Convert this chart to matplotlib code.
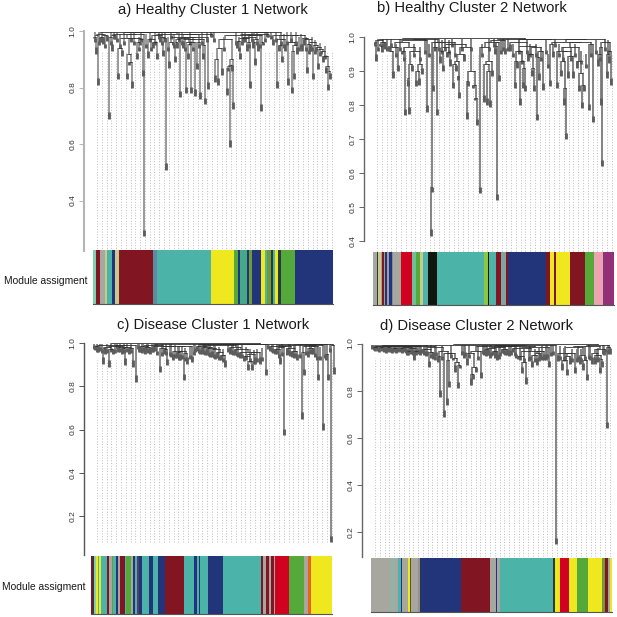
import numpy as np
import matplotlib
matplotlib.use("Agg")
import matplotlib.pyplot as plt
from matplotlib.collections import LineCollection

plt.rcParams['font.family'] = ['Liberation Sans', 'DejaVu Sans']

TEAL, RED2, NAVY, YEL, GRN, RED = '#4bb3a7', '#811622', '#22357a', '#efe81e', '#55a93a', '#d0021f'
GRY, BLK, MINT, KHA, LIL, LIME, PINK, MAG = '#a7a79f', '#101510', '#7fd0b0', '#c9c98a', '#9a9ac8', '#8fc63f', '#eba4b0', '#93307a'
OLV, DRK, ORG = '#6f9a3a', '#2a3a40', '#e8641e'

titles = ['a) Healthy Cluster 1 Network', 'b) Healthy Cluster 2 Network',
          'c) Disease Cluster 1 Network', 'd) Disease Cluster 2 Network']

a_x = [1,3,5,7,10,14,16,19,22,25,
       29,34,36,39,44,47,50,51,55,60,
       64,67,70,73,76,80,82,84,87,90,
       93,95,98,102,104,107,110,112,115,119,
       122,125,129,134,135,137,139,140,144,147,
       150,154,157,160,162,165,168,170,175,180,
       184,186,189,192,195,199,201,204,209,211,
       214,217,220,223,225,228,230,233,235,237]
a_tip = [.975,.92,.81,.96,.955,.965,.69,.93,.97,.83,
         .91,.83,.88,.80,.90,.95,.84,.274,.905,.94,
         .90,.96,.91,.508,.87,.95,.89,.94,.765,.94,
         .78,.90,.78,.77,.865,.76,.90,.74,.795,.98,
         .82,.81,.845,.775,.86,.59,.86,.725,.94,.90,
         .96,.93,.80,.94,.88,.93,.718,.95,.98,.95,
         .80,.93,.89,.93,.81,.78,.83,.92,.93,.95,
         .85,.93,.83,.93,.865,.92,.89,.85,.79,.83]
a_merge = [.98,.985,.99,.98,.985,.995,.98,.985,.99,.94,
           .975,.92,.89,.975,.96,.97,.99,.995,.97,.96,
           .985,.98,.975,.99,.96,.98,.96,.97,.975,.97,
           .96,.955,.96,.97,.96,.97,.95,.98,.99,.997,
           .90,.94,.97,.87,.875,.88,.90,.985,.965,.975,
           .975,.96,.98,.96,.97,.985,.96,.99,.995,.985,
           .97,.95,.97,.985,.96,.93,.95,.985,.975,.97,
           .955,.96,.95,.945,.935,.93,.91,.875,.86]
a_teeth_x = [2,6,9,12,18,21,24,27,31,38,41,46,48,53,57,58,62,66,69,72,75,78,81,86,89,92,97,100,106,109,
             114,118,121,131,143,146,149,152,156,159,164,167,172,174,178,183,188,191,194,198,203,206,208,213,216,219,222,227,232]
a_teeth_tip = [.96,.95,.96,.94,.95,.97,.96,.94,.95,.96,.95,.93,.96,.94,.96,.93,.95,.97,.95,.96,.93,.97,.94,.96,.95,.93,.95,.93,.94,.95,
               .96,.98,.96,.93,.95,.93,.95,.96,.94,.96,.95,.94,.96,.98,.97,.96,.95,.94,.95,.96,.95,.93,.94,.93,.92,.93,.92,.91,.90]

b_x = [2,3,7,9,12,16,20,25,29,32,
       35,36,39,43,46,49,54,58,59,60,
       64,67,70,74,77,80,83,85,86,91,
       94,95,100,102,104,107,111,114,117,119,
       122,124,126,132,137,142,144,147,150,152,
       155,159,161,164,166,170,177,180,184,188,
       191,193,195,200,204,206,209,211,216,220,
       225,228,229,234,236,238]
b_tip = [.975,.93,.98,.955,.965,.975,.88,.90,.95,.77,
         .855,.775,.90,.855,.86,.89,.78,.416,.545,.84,
         .77,.925,.90,.94,.915,.85,.90,.875,.82,.93,
         .76,.855,.85,.815,.74,.54,.81,.80,.795,.885,
         .95,.52,.87,.95,.96,.85,.91,.80,.85,.84,
         .93,.885,.84,.755,.875,.845,.855,.94,.85,.885,
         .80,.70,.88,.88,.91,.84,.79,.84,.785,.75,
         .915,.80,.62,.88,.925,.86]
b_merge = [.985,.99,.975,.985,.995,.96,.97,.985,.96,.97,
           .88,.92,.96,.90,.92,.99,.995,.56,.985,.97,
           .985,.96,.97,.955,.98,.92,.93,.885,.95,.97,
           .87,.90,.86,.82,.997,.97,.92,.90,.93,.985,
           .975,.985,.99,.995,.985,.93,.96,.93,.91,.975,
           .95,.91,.97,.94,.96,.995,.98,.985,.96,.93,
           .85,.96,.945,.97,.93,.895,.86,.985,.98,.995,
           .95,.97,.985,.95,.96]
b_teeth_x = [5,10,14,18,23,27,31,41,47,52,56,62,66,69,72,76,79,82,89,98,109,116,121,128,130,135,140,146,149,154,
             157,163,168,173,175,182,186,190,198,202,208,213,218,223,227,232,235]
b_teeth_tip = [.96,.97,.96,.97,.94,.96,.93,.94,.93,.95,.94,.96,.96,.95,.96,.95,.97,.94,.96,.96,.94,.96,.97,.95,.96,.96,.94,.95,.92,.95,
               .94,.94,.93,.95,.91,.97,.94,.93,.93,.94,.92,.91,.94,.95,.93,.96,.95]

c_x = [2,5,10,12,16,20,25,29,32,36,
       40,43,47,52,57,60,67,71,74,80,
       84,87,91,94,99,104,109,114,119,124,
       128,132,137,142,147,151,155,159,162,167,
       173,177,182,187,191,194,199,204,209,211,
       215,220,225,230,233,235,238,241]
c_tip = [.966,.96,.905,.95,.89,.95,.96,.95,.90,.95,
         .89,.82,.96,.95,.95,.96,.866,.95,.897,.92,
         .93,.92,.828,.905,.91,.965,.95,.945,.935,.93,
         .92,.89,.95,.945,.93,.915,.874,.874,.905,.905,
         .85,.965,.95,.905,.574,.945,.935,.92,.65,.85,
         .935,.95,.828,.60,.92,.828,.08,.858]
c_merge = [.985,.99,.975,.98,.97,.985,.98,.975,.98,.975,
           .99,.998,.985,.98,.99,.985,.975,.97,.985,.965,
           .96,.965,.955,.985,.995,.985,.98,.975,.97,.96,
           .945,.99,.98,.97,.96,.94,.915,.95,.96,.995,
           .997,.985,.97,.98,.985,.975,.965,.99,.96,.985,
           .975,.985,.99,.995,.95,.997,.99]
c_teeth_x = [1,4,7,9,14,18,22,24,27,31,34,38,45,46,49,50,54,55,59,62,64,69,73,77,78,82,86,89,92,97,
             101,102,106,107,111,112,116,117,121,122,126,130,135,139,140,144,145,149,153,157,161,164,169,175,179,180,184,186,189,196,
             197,201,202,207,213,217,218,222,224,227,232,237]
c_teeth_tip = [.97,.96,.965,.955,.955,.96,.955,.97,.96,.955,.96,.955,.97,.96,.955,.965,.96,.955,.96,.965,.945,.94,.945,.94,.935,.93,.92,.925,.915,.925,
               .945,.96,.955,.95,.95,.945,.94,.935,.93,.925,.92,.91,.96,.95,.945,.94,.935,.93,.92,.91,.905,.91,.915,.97,.96,.955,.95,.93,.94,.95,
               .94,.93,.935,.93,.945,.955,.95,.935,.92,.92,.93,.96]

d_x = [2,6,9,12,16,19,22,26,29,32,
       36,39,43,47,52,58,62,67,69,73,
       76,78,82,84,87,89,96,100,102,105,
       110,114,117,122,126,131,136,142,147,151,
       155,161,166,169,173,178,185,187,191,196,
       199,204,209,212,216,221,224,229,231,234,
       236,239]
d_tip = [.98,.978,.98,.975,.97,.975,.97,.975,.975,.97,
         .95,.965,.93,.965,.96,.90,.935,.92,.775,.69,
         .74,.815,.93,.88,.81,.895,.91,.825,.85,.88,
         .852,.96,.95,.95,.93,.96,.95,.965,.935,.875,
         .83,.90,.91,.935,.93,.90,.15,.925,.888,.866,
         .915,.874,.915,.888,.845,.915,.915,.874,.90,.965,
         .64,.955]
d_merge = [.985,.99,.985,.99,.985,.99,.98,.99,.98,.985,
           .97,.98,.97,.99,.975,.965,.985,.945,.97,.96,
           .93,.96,.94,.92,.91,.995,.96,.87,.90,.97,
           .99,.975,.98,.97,.985,.975,.99,.98,.945,.92,
           .97,.95,.96,.97,.985,.995,.998,.96,.93,.945,
           .96,.985,.95,.93,.99,.96,.95,.935,.975,.995,
           .985]
d_teeth_x = [1,3,4,5,7,8,10,11,13,14,15,17,18,20,21,23,24,25,27,28,30,31,33,34,35,37,38,40,41,42,
             44,45,46,48,49,50,53,55,56,60,64,65,71,80,91,93,94,98,107,112,113,115,116,119,120,124,125,128,129,133,
             134,138,139,140,144,145,149,153,158,159,164,168,171,175,176,180,182,189,193,194,201,206,207,210,214,218,219,226,227,232,233,237,238]
d_teeth_tip = [.975,.972,.97,.975,.97,.965,.975,.97,.965,.97,.96,.97,.965,.965,.96,.97,.965,.96,.965,.97,.965,.96,.97,.965,.96,.95,.96,.955,.96,.95,
               .955,.95,.96,.955,.95,.96,.95,.945,.95,.94,.93,.945,.93,.94,.95,.94,.945,.94,.93,.955,.95,.945,.95,.94,.945,.94,.95,.935,.945,.955,
               .95,.945,.955,.95,.945,.94,.93,.92,.925,.93,.92,.925,.93,.93,.94,.945,.95,.93,.925,.93,.92,.92,.93,.92,.93,.935,.93,.92,.925,.955,.95,.955,.96]

a_ticks = [1.0, 0.8, 0.6, 0.4]
b_ticks = [1.0, 0.9, 0.8, 0.7, 0.6, 0.5, 0.4]
c_ticks = [1.0, 0.8, 0.6, 0.4, 0.2]
d_ticks = [1.0, 0.8, 0.6, 0.4, 0.2]

a_edges = [279,287,300,316,322,337,345,357,460,470,632,703,715,720,742,748,757,783,795,800,812,820,825,835,842,884,999]
a_cols = [MINT,RED2,GRY,KHA,TEAL,NAVY,KHA,RED2,'#5f8aa0',TEAL,YEL,GRN,NAVY,'#45a886',NAVY,OLV,NAVY,YEL,TEAL,OLV,DRK,TEAL,YEL,DRK,GRN,NAVY]
b_edges = [100,112,114,122,126,131,136,141,148,155,160,182,217,227,240,248,263,291,433,443,446,468,484,498,505,618,631,642,648,690,734,762,789,822]
b_cols = [GRY,DRK,KHA,GRY,RED2,LIL,DRK,LIL,NAVY,'#8a8a9a',GRY,RED,'#6fbf9a',GRN,KHA,TEAL,BLK,TEAL,LIME,BLK,TEAL,RED2,'#7fa5a0',RED2,NAVY,RED2,YEL,RED2,YEL,RED2,GRN,PINK,MAG]
c_edges = [274,279,283,288,293,298,304,322,326,336,340,348,354,361,375,379,394,400,405,410,418,425,446,460,474,496,553,582,590,596,600,605,624,669,782,790,797,806,813,822,826,866,912,925,932,995]
c_cols = [RED2,DRK,MINT,YEL,TEAL,YEL,TEAL,RED2,GRY,OLV,TEAL,NAVY,GRY,RED2,TEAL,GRN,GRY,NAVY,TEAL,'#5a3a6a',NAVY,TEAL,NAVY,TEAL,NAVY,RED2,TEAL,NAVY,TEAL,NAVY,TEAL,TEAL,NAVY,TEAL,RED2,GRY,RED2,GRY,RED2,GRY,RED,GRN,GRY,ORG,YEL]
d_edges = [94,150,156,165,175,182,186,204,209,213,234,240,244,362,451,467,472,479,638,644,660,688,710,744,787,795,805,810,816]
d_cols = [GRY,'#8fb3a5','#9ab0a5',GRY,TEAL,NAVY,GRY,YEL,'#5a5a20',GRY,'#9a8f8a',DRK,NAVY,RED2,GRY,NAVY,GRY,TEAL,DRK,YEL,RED,YEL,GRN,YEL,OLV,RED2,GRY,YEL]

W = 617
fig = plt.figure(figsize=(W/100, W/100), dpi=100, facecolor='white')

def px_axes(x0, y0, x1, y1):
    return fig.add_axes([x0/W, 1-y1/W, (x1-x0)/W, (y1-y0)/W])

def build(x, tip, merge, lo, hi, H, S, T, tip_len):
    if lo == hi:
        return x[lo], tip[lo], True
    k = lo + int(np.argmax(merge[lo:hi]))
    h = merge[k]
    xl, yl, ll = build(x, tip, merge, lo, k, H, S, T, tip_len)
    xr, yr, lr = build(x, tip, merge, k+1, hi, H, S, T, tip_len)
    H.append([(xl, h), (xr, h)])
    for cx, cy, leaf in ((xl, yl, ll), (xr, yr, lr)):
        S.append([(cx, h), (cx, cy)])
        if leaf:
            T.append([(cx, min(h, cy+tip_len)), (cx, cy)])
    return (xl+xr)/2, h, False

def panel(x, tip, merge, teeth_x, teeth_tip, ticks, edges, cols, title, tx, ty, left, y1, scale, vbot,
          spine_col, spine_lw, stem_col, guide_top, guide_bot, axis_bot, bar):
    right = left + 240
    y_of = lambda v: y1 + (1-v)*scale
    ax = px_axes(left, y_of(1.01), right, y_of(vbot))
    ax.set_xlim(0, 240)
    ax.set_ylim(vbot, 1.01)
    ax.patch.set_alpha(0)
    for s in ('top', 'right', 'bottom'):
        ax.spines[s].set_visible(False)
    sp = ax.spines['left']
    sp.set_position(('outward', 9*0.72))
    sp.set_bounds(axis_bot, 1.0)
    sp.set_color(spine_col)
    sp.set_linewidth(spine_lw)
    ax.set_xticks([])
    ax.set_yticks(ticks)
    ax.set_yticklabels([f'{t:.1f}' for t in ticks], rotation=90, va='center', fontsize=6.0, color='#333333')
    ax.tick_params(axis='y', length=3.6, width=0.7, color=spine_col, pad=1.8)
    gx = np.arange(4, 240, 4.79)
    ax.vlines(gx, guide_bot, guide_top, colors='#b4b4b4', linewidth=0.65, linestyles=[(0, (1, 2.0))], zorder=1, clip_on=False)
    H, S, T = [], [], []
    build(list(x), list(tip), list(merge), 0, len(x)-1, H, S, T, 6.5/scale)
    for tx_, tt in zip(teeth_x, teeth_tip):
        S.append([(tx_, min(.995, tt+.04*340/scale)), (tx_, tt)])
        T.append([(tx_, tt+4/scale), (tx_, tt)])
    ax.add_collection(LineCollection(S, colors=stem_col, linewidths=1.25, zorder=2, capstyle='butt', clip_on=False))
    ax.add_collection(LineCollection(T, colors='#5c5c5c', linewidths=2.0, zorder=3, capstyle='butt', clip_on=False))
    ax.add_collection(LineCollection(H, colors='#2e2e2e', linewidths=0.6, zorder=4, clip_on=False))
    bx = px_axes(*bar)
    bx.set_xlim(edges[0], edges[-1])
    bx.set_ylim(0, 1)
    bx.barh(0.5, np.diff(edges), left=edges[:-1], height=1, color=cols, linewidth=0)
    bx.set_xticks([]); bx.set_yticks([])
    for s in ('top', 'left', 'right'):
        bx.spines[s].set_visible(False)
    bx.spines['bottom'].set_color('#555555')
    bx.spines['bottom'].set_linewidth(0.8)
    fig.text(tx/W, 1-ty/W, title, ha='center', va='center', fontsize=10.6, color='#1a1a1a')

panel(a_x, a_tip, a_merge, a_teeth_x, a_teeth_tip, a_ticks, a_edges, a_cols, titles[0], 213, 10, 93, 31, 282.5, .223,
      '#b4b4b4', 1.5, '#8e8e8e', .93, .223, .223, (93, 250, 333, 304.5))
panel(b_x, b_tip, b_merge, b_teeth_x, b_teeth_tip, b_ticks, b_edges, b_cols, titles[1], 472, 8, 373, 37, 340, .4,
      '#666666', 1.0, '#757575', .95, .37, .4, (373.3, 252, 614, 305))
panel(c_x, c_tip, c_merge, c_teeth_x, c_teeth_tip, c_ticks, c_edges, c_cols, titles[2], 213, 325, 93, 343, 216.5, .02,
      '#555555', 1.0, '#7c7c7c', .92, .08, .02, (91.3, 556, 331.7, 614))
panel(d_x, d_tip, d_merge, d_teeth_x, d_teeth_tip, d_ticks, d_edges, d_cols, titles[3], 477, 326, 371, 343.5, 236, .094,
      '#666666', 1.0, '#757575', .94, .10, .094, (371.3, 558, 612, 612))

fig.text(4/W, 1-281/W, 'Module assigment', ha='left', va='center', fontsize=7.4, color='#1a1a1a')
fig.text(2/W, 1-587/W, 'Module assigment', ha='left', va='center', fontsize=7.4, color='#1a1a1a')

fig.savefig('out.png', dpi=100)
